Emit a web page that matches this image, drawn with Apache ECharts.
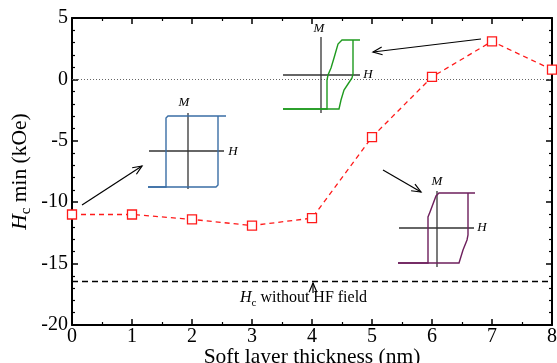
<!DOCTYPE html>
<html><head><meta charset="utf-8">
<script src="https://cdn.jsdelivr.net/npm/echarts@6/dist/echarts.min.js"></script>
<style>html,body{margin:0;padding:0;background:#fff;}#c{width:557px;height:363px;}</style>
</head><body><div id="c"></div>
<script>
const thickness = [0, 1, 2, 3, 4, 5, 6, 7, 8];
const hcMin = [-11.0, -11.0, -11.4, -11.9, -11.3, -4.7, 0.2, 3.1, 0.8];
const hcWithoutHF = -16.4;
const xTickLabels = ['0','1','2','3','4','5','6','7','8'];
const yTickLabels = ['-20','-15','-10','-5','0','5'];

const FONT = 'Liberation Serif';
const chart = echarts.init(document.getElementById('c'));

function arrow(x1, y1, x2, y2, color) {
  const a = Math.atan2(y2 - y1, x2 - x1);
  const L = 10, w = 0.4;
  const p1 = [x2 - L * Math.cos(a - w), y2 - L * Math.sin(a - w)];
  const p2 = [x2 - L * Math.cos(a + w), y2 - L * Math.sin(a + w)];
  return [
    {type: 'line', shape: {x1, y1, x2, y2}, style: {stroke: color || '#000', lineWidth: 1.2}, z: 10},
    {type: 'polyline', shape: {points: [p1, [x2, y2], p2]}, style: {stroke: color || '#000', lineWidth: 1.2, fill: null}, z: 10}
  ];
}
function poly(points, color, lw) {
  return {type: 'polyline', shape: {points}, style: {stroke: color, lineWidth: lw || 1.4, fill: null}, z: 10};
}
function ln(x1, y1, x2, y2, color, lw) {
  return {type: 'line', shape: {x1, y1, x2, y2}, style: {stroke: color || '#333', lineWidth: lw || 1.3}, z: 10};
}
function txt(x, y, s, size, extra) {
  return Object.assign({type: 'text', x, y, style: {text: s, font: 'italic ' + (size || 13) + 'px ' + FONT, fill: '#000', textAlign: 'center', textVerticalAlign: 'middle'}, z: 11}, extra || {});
}

const blue = '#3a6ea5', green = '#1f9a1f', purple = '#6d1f5c';
const graphics = [].concat(
  // blue inset
  [ln(149, 151, 224, 151), ln(188, 113, 188, 189),
   poly([[226,116],[168,116],[166,118],[166,187],[148,187]], blue),
   poly([[148,187],[216,187],[218,185],[218,116]], blue),
   txt(184, 103, 'M'), txt(233, 152, 'H')],
  arrow(82, 205, 142, 166),
  // green inset
  [ln(283, 75, 360, 75), ln(321, 37, 321, 113),
   poly([[360,40],[342,40],[338,44],[334,58],[331,68],[328,75],[327,80],[327,109],[283,109]], green),
   poly([[283,109],[339,109],[341,100],[344,90],[348,84],[352,78],[353,74],[353,40]], green),
   txt(319, 29, 'M'), txt(368, 75, 'H')],
  arrow(481, 39, 373, 52),
  // purple inset
  [ln(399, 228, 474, 228), ln(437, 191, 437, 267),
   poly([[475,193],[439,193],[436,196],[430,212],[428,217],[428,263],[398,263]], purple),
   poly([[398,263],[459,263],[463,250],[467,240],[468,235],[468,193]], purple),
   txt(437, 182, 'M'), txt(482, 228, 'H')],
  arrow(383, 170, 421, 192),
  // label for Hc without HF
  arrow(313, 293, 313, 283),
  [{type: 'text', x: 240, y: 298, z: 11,
    style: {text: '{i|H}{s|c}{n| without HF field}', textVerticalAlign: 'middle',
      rich: {
        i: {font: 'italic 16px ' + FONT, fill: '#000'},
        s: {font: '11px ' + FONT, fill: '#000', padding: [11, 0, 0, 0]},
        n: {font: '16px ' + FONT, fill: '#000'}
      }}}]
);

const axisCommon = {
  axisLine: {show: true, onZero: false, lineStyle: {color: '#000', width: 2}},
  axisTick: {show: true, inside: true, length: 6, lineStyle: {color: '#000', width: 1.5}},
  minorTick: {show: true, length: 3, lineStyle: {color: '#000', width: 1.2}},
  splitLine: {show: false}
};

chart.setOption({
  animation: false,
  backgroundColor: '#fff',
  grid: {left: 72, right: 5, top: 18, bottom: 38, outerBoundsMode: 'none', containLabel: false},
  xAxis: [
    Object.assign({}, axisCommon, {
      type: 'value', min: 0, max: 8, interval: 1, position: 'bottom',
      minorTick: Object.assign({}, axisCommon.minorTick, {splitNumber: 2}),
      axisLabel: {fontFamily: FONT, fontSize: 20, color: '#000', margin: 2,
        formatter: v => xTickLabels[Math.round(v)]},
      name: 'Soft layer thickness (nm)', nameLocation: 'middle', nameGap: 21, nameMoveOverlap: false,
      nameTextStyle: {fontFamily: FONT, fontSize: 21.5, color: '#000'}
    }),
    Object.assign({}, axisCommon, {
      type: 'value', min: 0, max: 8, interval: 1, position: 'top',
      minorTick: Object.assign({}, axisCommon.minorTick, {splitNumber: 2}),
      axisLabel: {show: false}
    })
  ],
  yAxis: [
    Object.assign({}, axisCommon, {
      type: 'value', min: -20, max: 5, interval: 5, position: 'left',
      minorTick: Object.assign({}, axisCommon.minorTick, {splitNumber: 5}),
      axisLabel: {fontFamily: FONT, fontSize: 20, color: '#000', margin: 4,
        formatter: v => yTickLabels[Math.round((v + 20) / 5)]},
      name: '{i|H}{s|c}{n| min (kOe)}', nameLocation: 'middle', nameGap: 38, nameRotate: 90, nameMoveOverlap: false,
      nameTextStyle: {rich: {
        i: {fontFamily: FONT, fontStyle: 'italic', fontSize: 21.5, color: '#000'},
        s: {fontFamily: FONT, fontSize: 15, color: '#000', padding: [12, 0, 0, 0]},
        n: {fontFamily: FONT, fontSize: 21.5, color: '#000'}
      }}
    }),
    Object.assign({}, axisCommon, {
      type: 'value', min: -20, max: 5, interval: 5, position: 'right',
      minorTick: Object.assign({}, axisCommon.minorTick, {splitNumber: 5}),
      axisLabel: {show: false}
    })
  ],
  series: [{
    type: 'line',
    data: thickness.map((x, i) => [x, hcMin[i]]),
    symbol: 'rect', symbolSize: 9,
    itemStyle: {color: '#fff', borderColor: '#ff1a1a', borderWidth: 1.3},
    lineStyle: {color: '#ff1a1a', width: 1.3, type: [5, 4]},
    z: 5,
    markLine: {
      silent: true, symbol: 'none', label: {show: false},
      data: [
        {yAxis: 0, lineStyle: {color: '#666', type: [1, 2], width: 1}},
        {yAxis: hcWithoutHF, lineStyle: {color: '#000', type: [6, 4], width: 1.3}}
      ]
    }
  }],
  graphic: graphics
});
</script></body></html>
